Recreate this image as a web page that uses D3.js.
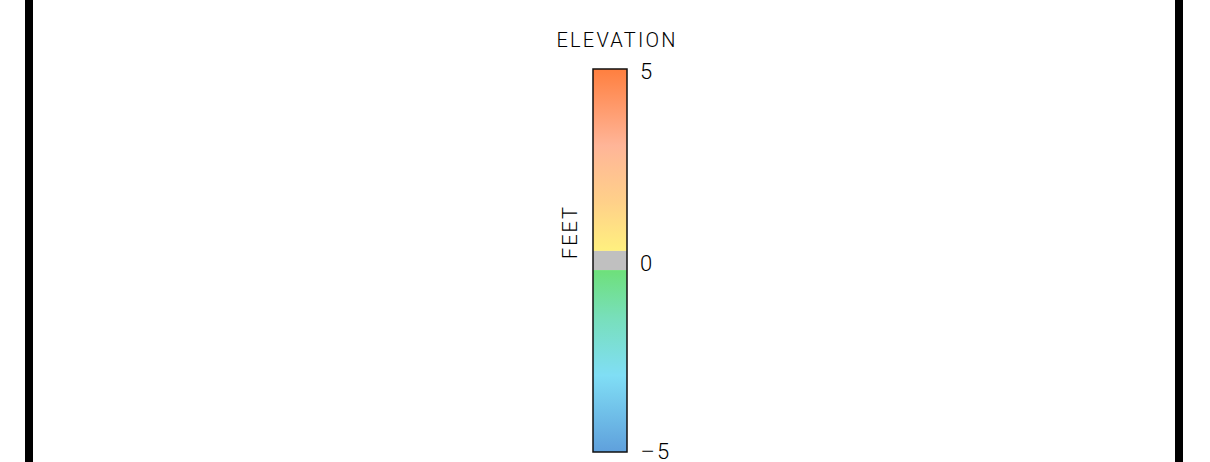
<!DOCTYPE html>
<html>
<head>
<meta charset="utf-8">
<script src="https://cdn.jsdelivr.net/npm/d3@7"></script>
<style>
  body { margin: 0; background: #fff; }
  svg { display: block; }
</style>
</head>
<body>
<svg id="chart" width="1210" height="462"></svg>
<script>
// colour bar data
const title = "ELEVATION";
const unitLabel = "FEET";
const domainMin = -5, domainMax = 5;
const tickValues = [5, 0, -5];
const tickLabels = ["5", "0", "5"];
const zeroBand = [-0.25, 0.25];
const zeroColor = "#c0c0c0";
const upperStops = [0.25, 1.5, 3, 5];
const upperColors = ["#fff07f", "#ffd189", "#ffb598", "#ff7f3f"];
const lowerStops = [-5, -3, -1.5, -0.25];
const lowerColors = ["#5fa0dc", "#80def5", "#78dfbb", "#6ee07a"];

const svg = d3.select("#chart");
const W = 1210, H = 462;

// frame side bars
svg.append("rect").attr("x", 25).attr("y", 0).attr("width", 8).attr("height", H).attr("fill", "#000");
svg.append("rect").attr("x", 1175).attr("y", 0).attr("width", 8).attr("height", H).attr("fill", "#000");

const x0 = 593, barW = 34;
const y = d3.scaleLinear().domain([domainMin, domainMax]).range([452, 69]);

const defs = svg.append("defs");
function grad(id, stops, colors) {
  const lo = d3.min(stops), hi = d3.max(stops);
  const g = defs.append("linearGradient").attr("id", id)
    .attr("x1", 0).attr("x2", 0).attr("y1", 1).attr("y2", 0);
  stops.forEach((s, i) => {
    g.append("stop").attr("offset", (s - lo) / (hi - lo)).attr("stop-color", colors[i]);
  });
}
grad("gUp", upperStops, upperColors);
grad("gLo", lowerStops, lowerColors);

svg.append("rect").attr("x", x0).attr("width", barW)
  .attr("y", y(domainMax)).attr("height", y(zeroBand[1]) - y(domainMax))
  .attr("fill", "url(#gUp)");
svg.append("rect").attr("x", x0).attr("width", barW)
  .attr("y", y(zeroBand[1])).attr("height", y(zeroBand[0]) - y(zeroBand[1]))
  .attr("fill", zeroColor);
svg.append("rect").attr("x", x0).attr("width", barW)
  .attr("y", y(zeroBand[0])).attr("height", y(domainMin) - y(zeroBand[0]))
  .attr("fill", "url(#gLo)");
svg.append("rect").attr("x", x0).attr("width", barW)
  .attr("y", y(domainMax)).attr("height", y(domainMin) - y(domainMax))
  .attr("fill", "none").attr("stroke", "#111").attr("stroke-width", 1.5);

const font = "Roboto, 'DejaVu Sans', sans-serif";

svg.append("text")
  .attr("x", 616).attr("y", 47)
  .attr("text-anchor", "middle")
  .style("font-family", font).style("font-weight", 300)
  .style("font-size", "20px").attr("textLength", 119)
  .text(title);

svg.append("text")
  .attr("transform", "translate(577,233)rotate(-90)")
  .attr("text-anchor", "middle")
  .style("font-family", font).style("font-weight", 300)
  .style("font-size", "20px").attr("textLength", 52)
  .text(unitLabel);

const ticks = svg.selectAll("text.tick")
  .data(tickValues)
  .enter().append("text")
  .attr("class", "tick")
  .attr("x", 640)
  .attr("y", d => Math.min(y(d) + 10, 459))
  .style("font-family", font).style("font-weight", 300)
  .style("font-size", "22px");

// wide minus sign for negative ticks, then the digits
ticks.filter(d => d < 0).append("tspan")
  .attr("textLength", 15).attr("lengthAdjust", "spacingAndGlyphs")
  .text("\u2212");
ticks.append("tspan")
  .attr("dx", d => d < 0 ? 2 : 0)
  .text((d, i) => tickLabels[i]);
</script>
</body>
</html>
